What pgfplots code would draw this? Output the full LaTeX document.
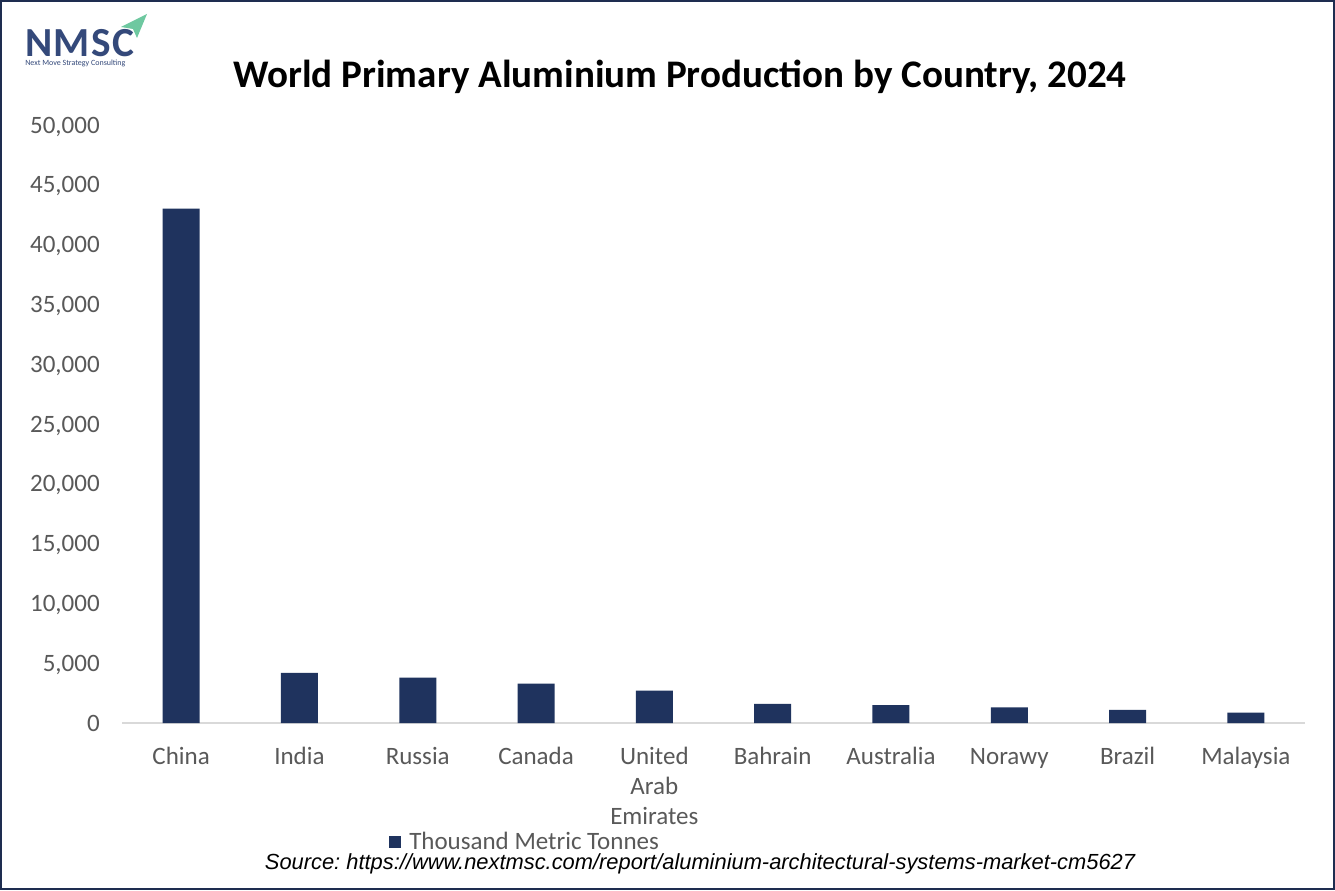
\documentclass[border=0pt]{standalone}
\usepackage{fontspec}
\setmainfont{Carlito}
\newfontfamily\arialfont{Liberation Sans}
\usepackage{pgfplots}
\pgfplotsset{compat=1.18}
\definecolor{bar}{RGB}{31,51,94}
\definecolor{txt}{RGB}{89,89,89}
\definecolor{axl}{RGB}{217,217,217}
\definecolor{logo}{RGB}{52,73,122}
\definecolor{frame}{RGB}{30,45,80}
\definecolor{arrowg}{RGB}{110,200,160}
\frenchspacing
\begin{document}
\begin{tikzpicture}
\fill[white] (0,0) rectangle (1001.25pt,667.5pt);
\draw[frame, line width=1.5pt] (0.75pt,0.75pt) rectangle (1000.5pt,666.75pt);
% logo
\node[anchor=base west, inner sep=0pt, text=logo, font=\fontsize{31}{31}\selectfont\bfseries] at ({25*0.75pt},{(890-57)*0.75pt}) {N\kern1pt M\kern1pt S\kern1pt C};
\node[anchor=base west, inner sep=0pt, text=logo, font=\fontsize{6}{6}\selectfont] at ({25*0.75pt},{(890-66)*0.75pt}) {Next Move Strategy Consulting};
\fill[arrowg] ({121*0.75pt},{(890-27)*0.75pt}) -- ({147*0.75pt},{(890-14)*0.75pt}) -- ({137*0.75pt},{(890-38)*0.75pt}) -- ({133*0.75pt},{(890-29)*0.75pt}) -- cycle;
% title
\node[anchor=base, inner sep=0pt, font=\fontsize{29.3}{29.3}\selectfont\bfseries] at ({680*0.75pt},{(890-88)*0.75pt}) {World Primary Aluminium Production by Country, 2024};
% source
\node[anchor=base, inner sep=0pt, font=\arialfont\itshape\fontsize{16.4}{16.4}\selectfont] at ({700*0.75pt},{(890-869)*0.75pt}) {Source: https://www.nextmsc.com/report/aluminium-architectural-systems-market-cm5627};
\begin{axis}[
  at={(91.5pt,125.25pt)}, anchor=south west,
  scale only axis, width=887.25pt, height=448.5pt,
  xmin=-0.5, xmax=9.5, ymin=0, ymax=50000,
  axis x line*=bottom, axis y line*=left,
  x axis line style={draw=axl, line width=1.5pt},
  y axis line style={draw=none},
  major tick length=0pt,
  xtick={0,...,9},
  xticklabels={China, India, {\vphantom{h}Russia}, Canada, {United\\Arab\\Emirates}, Bahrain, Australia, {\vphantom{h}Norawy}, Brazil, Malaysia},
  xticklabel style={align=center, inner sep=0pt, anchor=north, yshift=-18pt, text=txt, font=\fontsize{18.75}{22.5}\selectfont},
  ytick={0,5000,...,50000},
  scaled y ticks=false,
  yticklabel style={anchor=base east, inner sep=0pt, xshift=-16.5pt, yshift=-6pt, text=txt, font=\fontsize{18.75}{22.5}\selectfont},
  /pgf/number format/.cd, 1000 sep={,}, assume math mode=true, /pgfplots/.cd,
  legend style={at={(axis description cs:0.2257,-0.199)}, anchor=west, draw=none, fill=none, inner sep=0pt, font=\fontsize{18.75}{22.5}\selectfont, text=txt, nodes={inner sep=0pt}, /tikz/column sep=6pt},
  legend image code/.code={\fill[bar] (0pt,-4.5pt) rectangle (9pt,4.5pt);},
]
\addplot[ybar, bar width=27.75pt, fill=bar, draw=none] coordinates {
 (0,43000) (1,4200) (2,3800) (3,3300) (4,2700) (5,1600) (6,1500) (7,1300) (8,1100) (9,870)
};
\addlegendentry{Thousand Metric Tonnes}
\end{axis}
\end{tikzpicture}
\end{document}
